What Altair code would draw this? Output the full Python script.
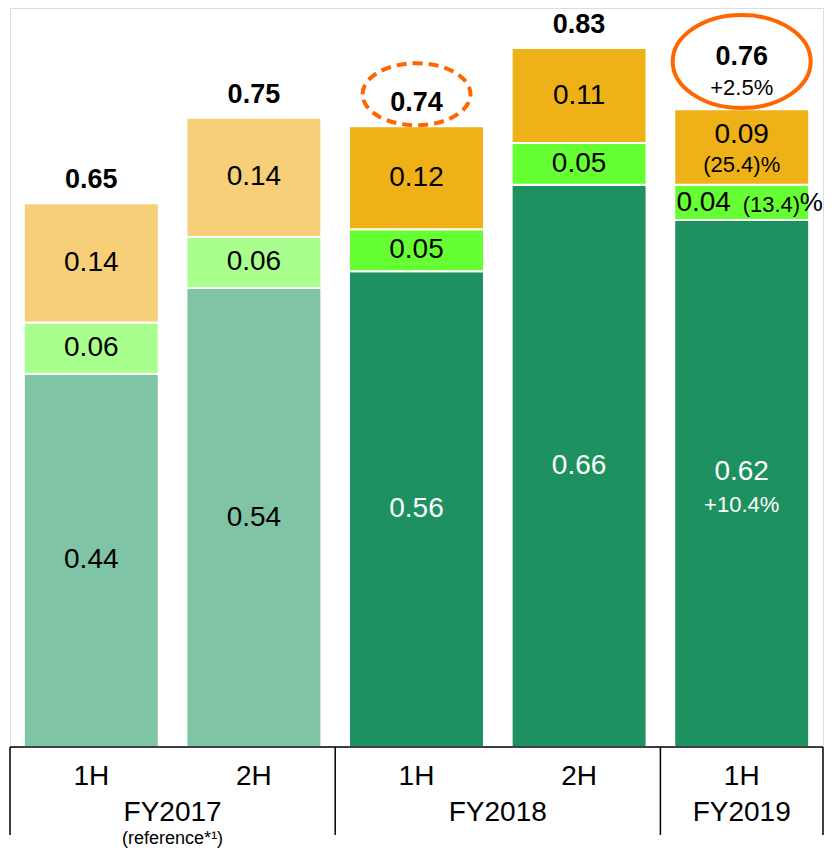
import altair as alt
import pandas as pd

# ---------------- data ----------------
bars = ["FY2017 1H", "FY2017 2H", "FY2018 1H", "FY2018 2H", "FY2019 1H"]
halves = ["1H", "2H", "1H", "2H", "1H"]
reference_period = [True, True, False, False, False]

base_values = [0.445, 0.547, 0.567, 0.670, 0.628]
middle_values = [0.061, 0.061, 0.050, 0.050, 0.042]
top_values = [0.142, 0.142, 0.123, 0.113, 0.090]

base_labels = ["0.44", "0.54", "0.56", "0.66", "0.62"]
middle_labels = ["0.06", "0.06", "0.05", "0.05", "0.04"]
top_labels = ["0.14", "0.14", "0.12", "0.11", "0.09"]
total_labels = ["0.65", "0.75", "0.74", "0.83", "0.76"]

# FY2019 1H year-on-year changes
change_base = "+10.4%"
change_middle = "(13.4)%"
change_top = "(25.4)%"
change_total = "+2.5%"

fiscal_years = ["FY2017", "FY2018", "FY2019"]
fiscal_year_centers = [1.0, 3.0, 4.5]      # in bar steps
group_edges = [0, 2, 4, 5]                 # in bar steps
reference_note = "(reference*¹)"

# ---------------- styles ----------------
FONT = "Liberation Sans"
solid = {"base": "#1E9160", "middle": "#66FF33", "top": "#EFB118"}
hatched = {"base": "#80C4A6", "middle": "#A8FF8E", "top": "#F7CF78"}
ORANGE = "#FF6600"
W, H = 813, 739
YMAX = 0.8808

rows = []
for i, b in enumerate(bars):
    start = 0.0
    for seg, vals, labs in (("base", base_values, base_labels),
                            ("middle", middle_values, middle_labels),
                            ("top", top_values, top_labels)):
        end = start + vals[i]
        pal = hatched if reference_period[i] else solid
        tcol = "white" if (seg == "base" and not reference_period[i]) else "black"
        rows.append(dict(bar=b, idx=i, seg=seg, start=start, end=end,
                         mid=(start + end) / 2, label=labs[i], fill=pal[seg], tcol=tcol))
        start = end
seg_df = pd.DataFrame(rows)
tot_df = pd.DataFrame(dict(bar=bars, idx=range(5), total=seg_df.groupby("idx")["end"].max().values,
                           label=total_labels))

xs = alt.X("bar:N", sort=bars, axis=None,
           scale=alt.Scale(paddingInner=0.17, paddingOuter=0.085))
ys = alt.Scale(domain=[0, YMAX], nice=False, zero=True)


def Y(field):
    return alt.Y(field, scale=ys, axis=None)


bars_layer = alt.Chart(seg_df).mark_bar(stroke="white", strokeWidth=2).encode(
    x=xs, y=Y("start:Q"), y2="end:Q",
    color=alt.Color("fill:N", scale=None),
)

normal = seg_df[seg_df["idx"] < 4]
seg_text = alt.Chart(normal).mark_text(font=FONT, fontSize=28, baseline="middle").encode(
    x=xs, y=Y("mid:Q"), text="label:N",
    color=alt.Color("tcol:N", scale=None),
)

last = seg_df[seg_df["idx"] == 4]
lb = last[last["seg"] == "base"]
lm = last[last["seg"] == "middle"]
lt = last[last["seg"] == "top"]


def txt(df, field, **kw):
    params = dict(font=FONT, fontSize=28, baseline="middle")
    params.update(kw)
    return alt.Chart(df).mark_text(**params).encode(x=xs, y=Y(field), text="label:N")


def txt_const(df, field, text, **kw):
    params = dict(font=FONT, fontSize=22, baseline="middle")
    params.update(kw)
    return alt.Chart(df).mark_text(**params).encode(x=xs, y=Y(field), text=alt.value(text))


fy19 = [
    txt(lb, "mid:Q", dy=-12, color="white"),
    txt_const(lb, "mid:Q", change_base, dy=21, color="white"),
    txt(lt, "mid:Q", dy=-12, color="black"),
    txt_const(lt, "mid:Q", change_top, dy=18, color="black"),
    txt(lm, "mid:Q", dx=-38, dy=1, color="black"),
    txt_const(lm, "mid:Q", change_middle[:-1], dx=1, dy=3, align="left", color="black"),
    txt_const(lm, "mid:Q", change_middle[-1], dx=58, dy=1, align="left", color="black",
              fontSize=26),
]

tot_first = tot_df[tot_df["idx"] < 4]
tot_last = tot_df[tot_df["idx"] == 4]
tot_text = alt.Chart(tot_first).mark_text(font=FONT, fontSize=27, fontWeight="bold",
                                          baseline="alphabetic", dy=-15, color="black").encode(
    x=xs, y=Y("total:Q"), text="label:N")
tot_last_text = alt.Chart(tot_last).mark_text(font=FONT, fontSize=27, fontWeight="bold",
                                              baseline="alphabetic", dy=-44, color="black").encode(
    x=xs, y=Y("total:Q"), text="label:N")
tot_last_change = alt.Chart(tot_last).mark_text(font=FONT, fontSize=22,
                                                baseline="alphabetic", dy=-14, color="black").encode(
    x=xs, y=Y("total:Q"), text=alt.value(change_total))


def ellipse_path(ry):
    k = 0.5523
    return (f"M -1 0 C -1 {-k*ry:.4f} {-k:.4f} {-ry:.4f} 0 {-ry:.4f} "
            f"C {k:.4f} {-ry:.4f} 1 {-k*ry:.4f} 1 0 "
            f"C 1 {k*ry:.4f} {k:.4f} {ry:.4f} 0 {ry:.4f} "
            f"C {-k:.4f} {ry:.4f} -1 {k*ry:.4f} -1 0 Z")


hl3 = tot_df[tot_df["idx"] == 2].assign(cy=lambda d: d["total"] + 0.038)
hl5 = tot_df[tot_df["idx"] == 4].assign(cy=lambda d: d["total"] + 0.057)
ell3 = alt.Chart(hl3).mark_point(shape=ellipse_path(0.574), size=108 ** 2, filled=False,
                                 stroke=ORANGE, strokeWidth=4, strokeDash=[10, 6], opacity=1).encode(
    x=xs, y=Y("cy:Q"))
ell5 = alt.Chart(hl5).mark_point(shape=ellipse_path(0.674), size=138 ** 2, filled=False,
                                 stroke=ORANGE, strokeWidth=4, opacity=1).encode(
    x=xs, y=Y("cy:Q"))

band_layers = alt.layer(bars_layer, seg_text, *fy19, tot_text, tot_last_text,
                        tot_last_change, ell3, ell5)

# ---------------- category box below bars ----------------
xq = alt.Scale(domain=[0, 5], range=[0, W])
edge_df = pd.DataFrame(dict(x=group_edges))
line_df = pd.DataFrame(dict(x0=[group_edges[0]], x1=[group_edges[-1]]))
half_df = pd.DataFrame(dict(pos=[i + 0.5 for i in range(5)], label=halves))
fy_df = pd.DataFrame(dict(pos=fiscal_year_centers, label=fiscal_years))
note_df = pd.DataFrame(dict(pos=[fiscal_year_centers[0]], label=[reference_note]))

hline = alt.Chart(line_df).mark_rule(color="black", strokeWidth=1.5).encode(
    x=alt.X("x0:Q", scale=xq, axis=None), x2="x1:Q", y=alt.value(H))
vlines = alt.Chart(edge_df).mark_rule(color="black", strokeWidth=1.5).encode(
    x=alt.X("x:Q", scale=xq, axis=None), y=alt.value(H), y2=alt.value(H + 88))
half_text = alt.Chart(half_df).mark_text(font=FONT, fontSize=28, baseline="middle").encode(
    x=alt.X("pos:Q", scale=xq, axis=None), y=alt.value(H + 30), text="label:N")
fy_text = alt.Chart(fy_df).mark_text(font=FONT, fontSize=28, baseline="middle").encode(
    x=alt.X("pos:Q", scale=xq, axis=None), y=alt.value(H + 66), text="label:N")
note_text = alt.Chart(note_df).mark_text(font=FONT, fontSize=18, baseline="middle").encode(
    x=alt.X("pos:Q", scale=xq, axis=None), y=alt.value(H + 92), text="label:N")

box_layers = alt.layer(hline, vlines, half_text, fy_text, note_text)

chart = alt.layer(band_layers, box_layers).resolve_scale(x="independent").properties(
    width=W, height=H,
    autosize=alt.AutoSizeParams(type="none"),
    padding={"left": 2, "top": 0, "right": 1, "bottom": 101},
).configure_view(stroke=None, strokeWidth=0).configure(font=FONT)

chart.save("out.html", embed_options={"renderer": "svg", "actions": False})
